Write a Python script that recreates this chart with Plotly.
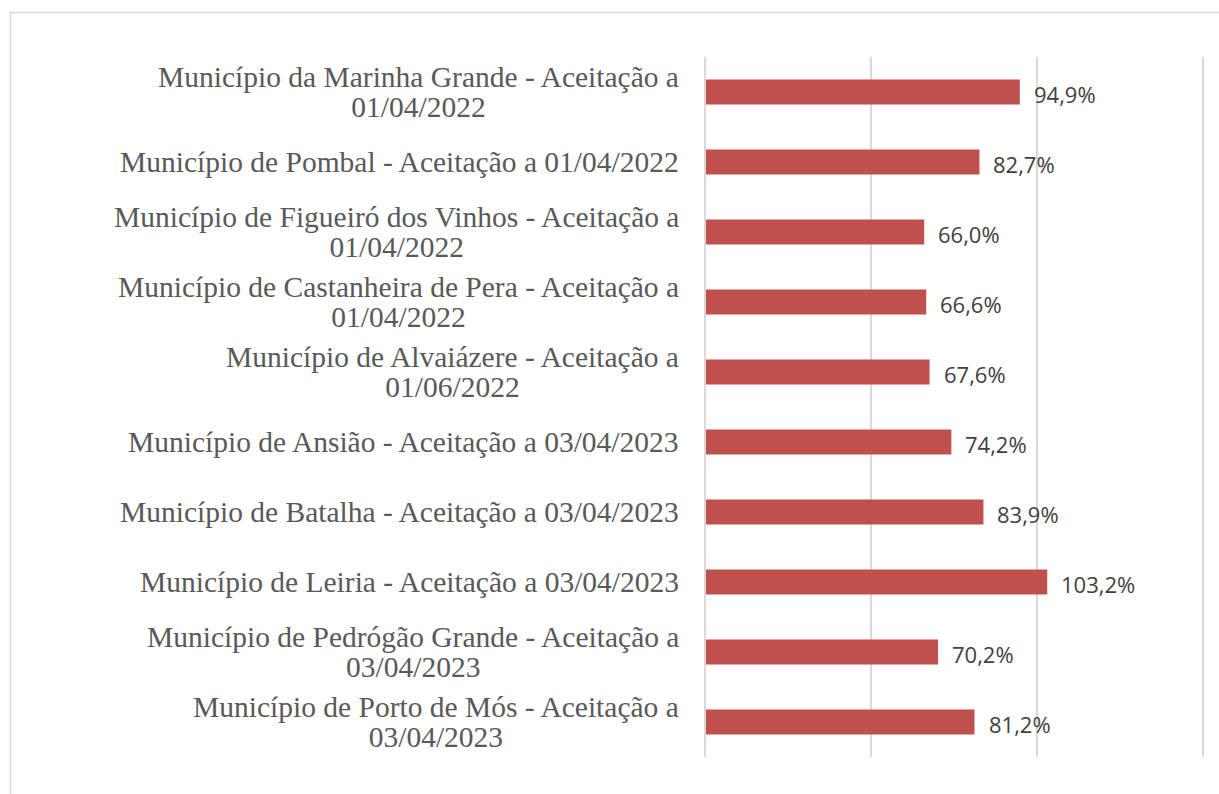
import plotly.graph_objects as go

categories = [
    "Município da Marinha Grande - Aceitação a<br>01/04/2022",
    "Município de Pombal - Aceitação a 01/04/2022",
    "Município de Figueiró dos Vinhos - Aceitação a<br>01/04/2022",
    "Município de Castanheira de Pera - Aceitação a<br>01/04/2022",
    "Município de Alvaiázere - Aceitação a<br>01/06/2022",
    "Município de Ansião - Aceitação a 03/04/2023",
    "Município de Batalha - Aceitação a 03/04/2023",
    "Município de Leiria - Aceitação a 03/04/2023",
    "Município de Pedrógão Grande - Aceitação a<br>03/04/2023",
    "Município de Porto de Mós - Aceitação a<br>03/04/2023",
]
values = [0.949, 0.827, 0.660, 0.666, 0.676, 0.742, 0.839, 1.032, 0.702, 0.812]
value_labels = [f"{v*100:.1f}%".replace(".", ",") for v in values]

W, H = 1219, 794
L, R, T, B = 706, 17, 57, 37
pw = W - L - R
ph = H - T - B

fig = go.Figure()
fig.add_trace(go.Bar(
    y=categories, x=values, orientation="h",
    marker=dict(color="#C0504D", line=dict(width=0)),
    hoverinfo="skip",
))

# category labels (right-aligned block, centered lines, tight line spacing)
for c in categories:
    styled = "<br>".join(f'<span style="font-size:29.5px">{part}</span>' for part in c.split("<br>"))
    fig.add_annotation(
        x=0, xref="paper", y=c, yref="y", text=styled,
        xanchor="right", yanchor="middle", align="center", xshift=-25,
        showarrow=False,
        font=dict(family="Liberation Serif", size=23, color="#595959"),
    )
# value labels
for c, v, t in zip(categories, values, value_labels):
    fig.add_annotation(
        x=v, y=c, xref="x", yref="y", text=t,
        xanchor="left", yanchor="middle", xshift=12, yshift=-2, showarrow=False,
        font=dict(family="Open Sans", size=22, color="#404040"),
    )

# outer border
fig.add_shape(type="rect", xref="paper", yref="paper",
              x0=(10.5 - L) / pw, x1=(W + 5 - L) / pw,
              y0=-(H + 5 - T - ph) / ph, y1=1 + (T - 12.5) / ph,
              line=dict(color="#d9d9d9", width=1.5), layer="below")

fig.update_layout(
    width=W, height=H,
    margin=dict(l=L, r=R, t=T, b=B, pad=0),
    paper_bgcolor="white", plot_bgcolor="white",
    bargap=0.64, showlegend=False,
    xaxis=dict(range=[0, 1.5], dtick=0.5, showgrid=True, gridcolor="#d9d9d9",
               gridwidth=1.5, zeroline=False, showticklabels=False, showline=False,
               fixedrange=True),
    yaxis=dict(autorange="reversed", showticklabels=False, showgrid=False,
               zeroline=False, showline=True, mirror=True, linecolor="#d9d9d9",
               linewidth=1.5, fixedrange=True),
)

fig.write_html("out.html", config={"displayModeBar": False})
